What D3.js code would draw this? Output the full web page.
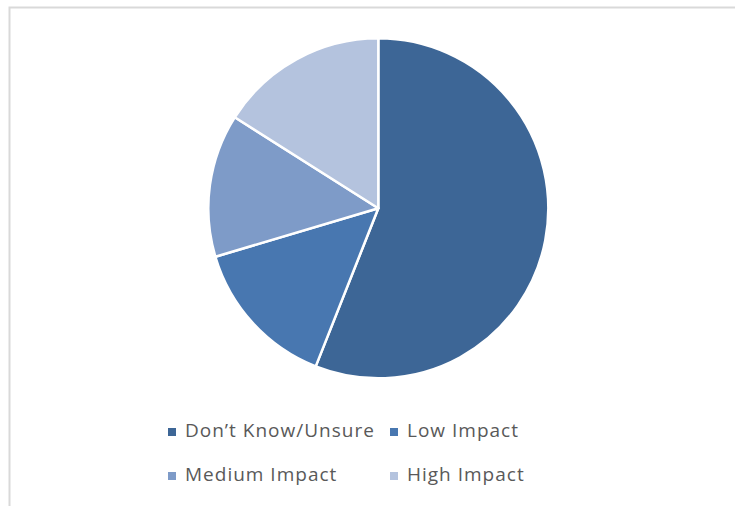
<!DOCTYPE html>
<html><head><meta charset="utf-8">
<script src="https://cdn.jsdelivr.net/npm/d3@7"></script>
<style>html,body{margin:0;padding:0;background:#fff;}svg{display:block;}</style>
</head><body>
<svg id="c" width="735" height="506"></svg>
<script>
const categories = ["Don\u2019t Know/Unsure", "Low Impact", "Medium Impact", "High Impact"];
const values = [70, 18, 17, 20];
const colors = ["#3d6696", "#4877b0", "#7e9bc8", "#b4c3de"];

const svg = d3.select("#c");
// frame
svg.append("path").attr("d", "M9.5,506 V7.5 H735").attr("fill", "none")
  .attr("stroke", "#d9d9d9").attr("stroke-width", 2);

const cx = 378.3, cy = 208.3, r = 170;
const pie = d3.pie().sort(null).value(d => d.v);
const arc = d3.arc().innerRadius(0).outerRadius(r);
const data = categories.map((c, i) => ({c, v: values[i], col: colors[i]}));
const g = svg.append("g").attr("transform", `translate(${cx},${cy})`);
g.selectAll("path").data(pie(data)).join("path")
  .attr("d", arc).attr("fill", d => d.data.col)
  .attr("stroke", "#fff").attr("stroke-width", 2.5).attr("stroke-linejoin", "round");

// legend
const color = d3.scaleOrdinal().domain(categories).range(colors);
const pos = [[168, 437], [390, 437], [168, 481], [390, 481]];
const lg = svg.append("g");
categories.forEach((c, i) => {
  const [x, y] = pos[i];
  lg.append("rect").attr("x", x).attr("y", y - 9).attr("width", 8).attr("height", 8).attr("fill", color(c));
  lg.append("text").attr("x", x + 17).attr("y", y).text(c)
    .attr("font-family", "'Open Sans', Lato, sans-serif").attr("font-size", 19)
    .attr("letter-spacing", 1.0).attr("fill", "#595959");
});
</script>
</body></html>
